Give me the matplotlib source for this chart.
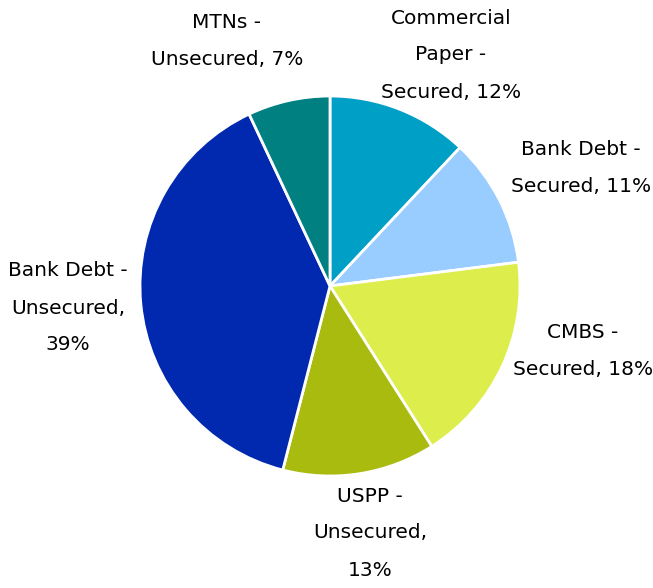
import matplotlib.pyplot as plt

labels = ["Commercial\nPaper -\nSecured, 12%", "Bank Debt -\nSecured, 11%",
          "CMBS -\nSecured, 18%", "USPP -\nUnsecured,\n13%",
          "Bank Debt -\nUnsecured,\n39%", "MTNs -\nUnsecured, 7%"]
shares = [12, 11, 18, 13, 39, 7]
colors = ["#00A0C6", "#99CCFF", "#DDEE4C", "#AABB0F", "#0029B0", "#008080"]

# label centres in pixel space (x, y from top)
label_pos = [(451, 55), (581, 168), (583, 351), (370, 533), (68, 308), (227, 41)]

W, H = 653, 588
fig = plt.figure(figsize=(W / 100, H / 100), dpi=100)
ax = fig.add_axes([0, 0, 1, 1])

ax.pie(shares, colors=colors, startangle=90, counterclock=False,
       center=(330, H - 286), radius=190, frame=True,
       wedgeprops=dict(edgecolor="white", linewidth=2))

ax.set_xlim(0, W)
ax.set_ylim(0, H)
ax.set_aspect("equal")
ax.axis("off")

for text, (x, y) in zip(labels, label_pos):
    ax.text(x, H - y, text, ha="center", va="center", fontsize=14.5,
            family="DejaVu Sans", linespacing=2.2, color="black")

fig.savefig("out.png", dpi=100)
